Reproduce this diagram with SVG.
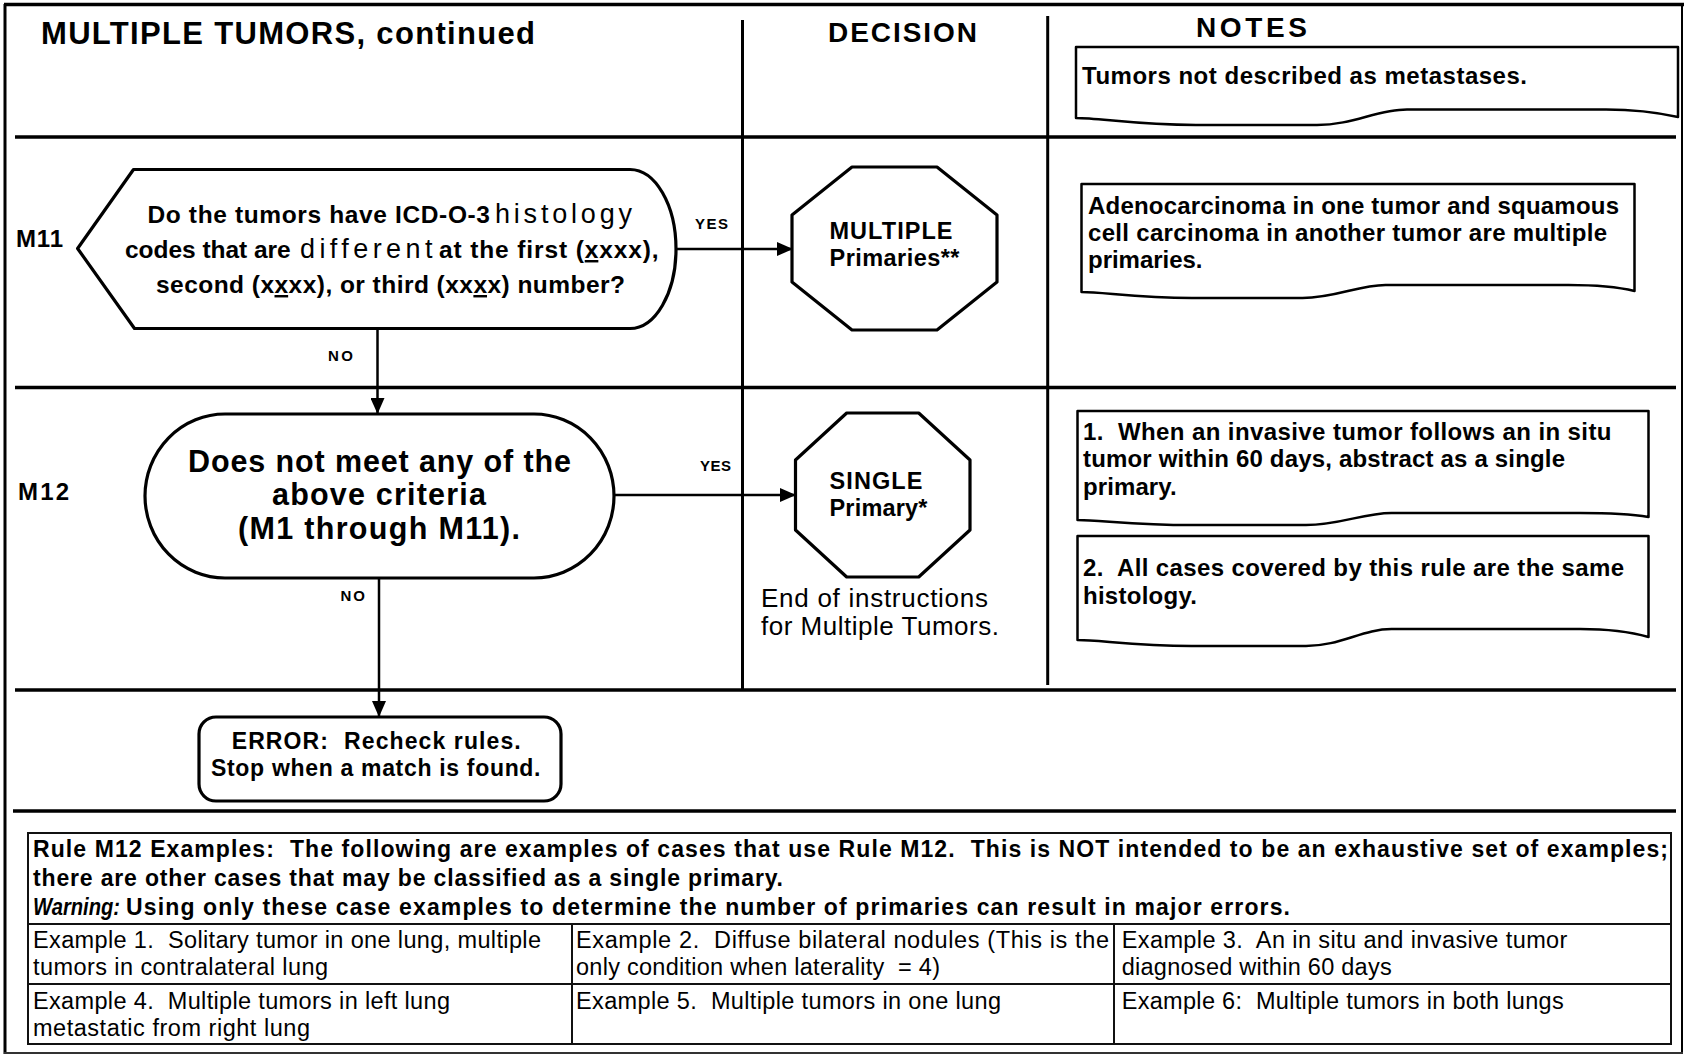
<svg xmlns="http://www.w3.org/2000/svg" width="1688" height="1058" viewBox="0 0 1688 1058">
<style>
.b{font-family:"Liberation Sans",Arial,sans-serif;font-weight:bold;fill:#000}
.r{font-family:"Liberation Sans",Arial,sans-serif;fill:#000}
.shape{fill:#fff;stroke:#000;stroke-width:3.2;stroke-linejoin:round}
.note{fill:#fff;stroke:#000;stroke-width:2.5;stroke-linejoin:round}
.rule{stroke:#000;stroke-width:3.5}
.vline{stroke:#000;stroke-width:3}
.conn{stroke:#000;stroke-width:2.5;fill:none}
.tbl{stroke:#111;stroke-width:2;fill:none}
.yn{font-size:15px}
.nt{font-size:24px}
.cell{font-size:23.5px}
.hd{font-size:23px}
</style>
<defs>
<marker id="arr" markerUnits="userSpaceOnUse" markerWidth="16" markerHeight="14" refX="15" refY="7" orient="auto">
<path d="M0,0 L16,7 L0,14 Z" fill="#000"/>
</marker>
</defs>
<rect x="0" y="0" width="1688" height="1058" fill="#fff"/>

<g id="frame">
<line x1="4" y1="4.5" x2="1684" y2="4.5" stroke="#000" stroke-width="3.5"/>
<line x1="5" y1="4" x2="5" y2="1054" stroke="#000" stroke-width="3"/>
<line x1="1682" y1="4" x2="1682" y2="1054" stroke="#000" stroke-width="2"/>
<line x1="4" y1="1053" x2="1683" y2="1053" stroke="#333" stroke-width="2"/>
<line class="rule" x1="15" y1="137" x2="1676" y2="137"/>
<line class="rule" x1="15" y1="387.5" x2="1676" y2="387.5"/>
<line class="rule" x1="15" y1="690" x2="1676" y2="690"/>
<line class="rule" x1="13" y1="811" x2="1676" y2="811"/>
<line class="vline" x1="742.5" y1="20" x2="742.5" y2="690"/>
<line class="vline" x1="1047.7" y1="16" x2="1047.7" y2="685"/>
</g>

<g id="headers">
<text class="b" x="41" y="44" font-size="31" textLength="494">MULTIPLE TUMORS, continued</text>
<text class="b" x="828" y="42" font-size="28" textLength="149">DECISION</text>
<text class="b" x="1196" y="37" font-size="28" textLength="111">NOTES</text>
</g>

<g id="note-header">
<path class="note" d="M1076,47 H1678 V117 C1660,113 1635,109.5 1606,109.5 L1407,109.5 C1377,109.5 1353,125 1317,125 L1196,125 C1136,125 1100,118 1076,118 Z"/>
<text class="b nt" x="1082" y="84" textLength="445">Tumors not described as metastases.</text>
</g>

<g id="label-m11"><text class="b" x="16" y="247" font-size="24" textLength="47">M11</text></g>
<g id="label-m12"><text class="b" x="18" y="500" font-size="24" textLength="51">M12</text></g>

<g id="m11-question">
<path class="shape" d="M77.6,248.5 L133.5,169.5 H630 A46,79.5 0 0 1 630,328.5 H134.5 Z"/>
<text class="b" x="147.5" y="223" font-size="24.5" textLength="342.5">Do the tumors have ICD-O-3</text>
<text class="r" x="495" y="223" font-size="27" textLength="137">histology</text>
<text class="b" x="125" y="258" font-size="24.5" textLength="165.7">codes that are</text>
<text class="r" x="300" y="258" font-size="27" textLength="132.5">different</text>
<text class="b" x="439" y="258" font-size="24.5" textLength="219.6">at the first (<tspan text-decoration="underline">x</tspan>xxx),</text>
<text class="b" x="156" y="293" font-size="24.5" textLength="469">second (x<tspan text-decoration="underline">x</tspan>xx), or third (xx<tspan text-decoration="underline">x</tspan>x) number?</text>
</g>

<g id="m11-multiple">
<path class="shape" d="M852,167 L937,167 L997,215 L997,282 L937,330 L852,330 L792,282 L792,215 Z"/>
<text class="b" x="829.5" y="239" font-size="23.5" textLength="123">MULTIPLE</text>
<text class="b" x="829.5" y="266" font-size="23.5" textLength="130">Primaries**</text>
</g>

<g id="note-m11">
<path class="note" d="M1081.5,184 H1634.5 V291 C1618,287 1596,285 1568.5,285 L1385.5,285 C1358,285 1335.5,298 1302.5,298 L1192,298 C1137,298 1103.5,292 1081.5,292 Z"/>
<text class="b nt" x="1088" y="214" textLength="531">Adenocarcinoma in one tumor and squamous</text>
<text class="b nt" x="1088" y="241" textLength="519">cell carcinoma in another tumor are multiple</text>
<text class="b nt" x="1088" y="268" textLength="114.5">primaries.</text>
</g>

<g id="m12-criteria">
<rect class="shape" x="145" y="414" width="469" height="164" rx="80" ry="82"/>
<text class="b" x="188" y="472" font-size="30.5" textLength="383">Does not meet any of the</text>
<text class="b" x="272" y="505" font-size="30.5" textLength="214">above criteria</text>
<text class="b" x="238" y="539" font-size="30.5" textLength="282">(M1 through M11).</text>
</g>

<g id="m12-single">
<path class="shape" d="M846.7,413 L918.7,413 L970,460 L970,530 L918.7,577 L846.7,577 L795.5,530 L795.5,460 Z"/>
<text class="b" x="829.5" y="489" font-size="23.5" textLength="93">SINGLE</text>
<text class="b" x="829.5" y="516" font-size="23.5" textLength="98">Primary*</text>
</g>

<g id="end-text">
<text class="r" x="761" y="607" font-size="26" textLength="227">End of instructions</text>
<text class="r" x="761" y="635" font-size="26" textLength="238">for Multiple Tumors.</text>
</g>

<g id="note-m12-1">
<path class="note" d="M1077.5,411 H1648.5 V517 C1631,514 1608.5,513 1580,513 L1391.5,513 C1363,513 1340,525 1306,525 L1191.5,525 C1134.5,525 1100,520 1077.5,520 Z"/>
<text class="b nt" x="1083" y="440" textLength="528.5" xml:space="preserve">1.  When an invasive tumor follows an in situ</text>
<text class="b nt" x="1083" y="467" textLength="482">tumor within 60 days, abstract as a single</text>
<text class="b nt" x="1083" y="495" textLength="93.6">primary.</text>
</g>

<g id="note-m12-2">
<path class="note" d="M1077.5,536 H1648.5 V637 C1631,632 1608.5,629 1580,629 L1391.5,629 C1363,629 1340,646 1306,646 L1191.5,646 C1134.5,646 1100,640 1077.5,640 Z"/>
<text class="b nt" x="1083" y="576" textLength="541" xml:space="preserve">2.  All cases covered by this rule are the same</text>
<text class="b nt" x="1083" y="604" textLength="114">histology.</text>
</g>

<g id="error">
<rect class="shape" x="199" y="717" width="362" height="84" rx="17"/>
<text class="b" x="231.7" y="749" font-size="23" textLength="289" xml:space="preserve">ERROR:  Recheck rules.</text>
<text class="b" x="211" y="776" font-size="23" textLength="329.5">Stop when a match is found.</text>
</g>

<g id="connectors">
<path class="conn" d="M676,249 H792" marker-end="url(#arr)"/>
<path class="conn" d="M377.5,328.5 V413" marker-end="url(#arr)"/>
<path class="conn" d="M614,495 H795" marker-end="url(#arr)"/>
<path class="conn" d="M379,578 V716" marker-end="url(#arr)"/>
<text class="b yn" x="695" y="229" textLength="33">YES</text>
<text class="b yn" x="328" y="361" textLength="25">NO</text>
<text class="b yn" x="700" y="471" textLength="31">YES</text>
<text class="b yn" x="340.5" y="601" textLength="24.5">NO</text>
</g>

<g id="examples-table">
<rect class="tbl" x="28" y="833" width="1643" height="211"/>
<line class="tbl" x1="28" y1="924" x2="1671" y2="924"/>
<line class="tbl" x1="28" y1="984" x2="1671" y2="984"/>
<line class="tbl" x1="572" y1="924" x2="572" y2="1044"/>
<line class="tbl" x1="1114" y1="924" x2="1114" y2="1044"/>
<text class="b hd" x="33" y="857" textLength="1635" xml:space="preserve">Rule M12 Examples:  The following are examples of cases that use Rule M12.  This is NOT intended to be an exhaustive set of examples;</text>
<text class="b hd" x="33" y="886" textLength="750">there are other cases that may be classified as a single primary.</text>
<text class="b" x="33" y="915" font-size="23" font-style="italic" textLength="87" lengthAdjust="spacingAndGlyphs">Warning:</text>
<text class="b hd" x="126" y="915" textLength="1164">Using only these case examples to determine the number of primaries can result in major errors.</text>
<text class="r cell" x="33" y="948" textLength="508" xml:space="preserve">Example 1.  Solitary tumor in one lung, multiple</text>
<text class="r cell" x="33" y="975" textLength="295">tumors in contralateral lung</text>
<text class="r cell" x="576" y="948" textLength="533" xml:space="preserve">Example 2.  Diffuse bilateral nodules (This is the</text>
<text class="r cell" x="576" y="975" textLength="364" xml:space="preserve">only condition when laterality  = 4)</text>
<text class="r cell" x="1121.7" y="948" textLength="445.7" xml:space="preserve">Example 3.  An in situ and invasive tumor</text>
<text class="r cell" x="1121.7" y="975" textLength="270">diagnosed within 60 days</text>
<text class="r cell" x="33" y="1009" textLength="417" xml:space="preserve">Example 4.  Multiple tumors in left lung</text>
<text class="r cell" x="33" y="1036" textLength="277">metastatic from right lung</text>
<text class="r cell" x="576" y="1009" textLength="425" xml:space="preserve">Example 5.  Multiple tumors in one lung</text>
<text class="r cell" x="1121.7" y="1009" textLength="442" xml:space="preserve">Example 6:  Multiple tumors in both lungs</text>
</g>
</svg>
